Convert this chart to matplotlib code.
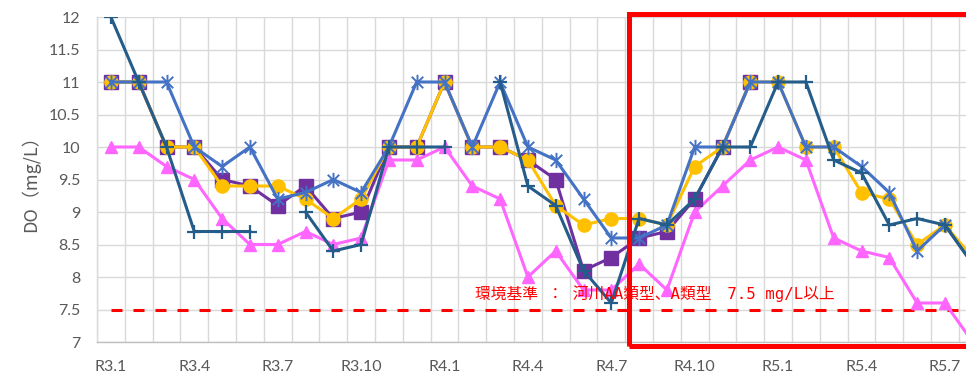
import numpy as np
import matplotlib
matplotlib.use("Agg")
import matplotlib.pyplot as plt
from matplotlib.patches import Rectangle
from matplotlib.path import Path
from matplotlib.transforms import blended_transform_factory

nan = np.nan

months = [
    "R3.1", "R3.2", "R3.3", "R3.4", "R3.5", "R3.6", "R3.7", "R3.8", "R3.9", "R3.10", "R3.11", "R3.12",
    "R4.1", "R4.2", "R4.3", "R4.4", "R4.5", "R4.6", "R4.7", "R4.8", "R4.9", "R4.10", "R4.11", "R4.12",
    "R5.1", "R5.2", "R5.3", "R5.4", "R5.5", "R5.6", "R5.7", "R5.8",
]

do_purple = [11, 11, 10, 10, 9.5, 9.4, 9.1, 9.4, 8.9, 9.0, 10, 10, 11, 10, 10, 9.8,
             9.5, 8.1, 8.3, 8.6, 8.7, 9.2, 10, 11, nan, nan, nan, nan, nan, nan, nan, nan]
do_yellow = [11, 11, 10, 10, 9.4, 9.4, 9.4, 9.2, 8.9, 9.2, 10, 10, 11, 10, 10, 9.8,
             9.1, 8.8, 8.9, 8.9, 8.8, 9.7, 10, 11, 11, 10, 10, 9.3, 9.2, 8.5, 8.8, 8.3]
do_blue = [11, 11, 11, 10, 9.7, 10, 9.2, 9.3, 9.5, 9.3, 10, 11, 11, 10, 11, 10,
           9.8, 9.2, 8.6, 8.6, 8.8, 10, 10, 11, 11, 10, 10, 9.7, 9.3, 8.4, 8.8, 8.2]
do_navy = [12, 11, 10, 8.7, 8.7, 8.7, nan, 9.0, 8.4, 8.5, 10, 10, 10, nan, 11, 9.4,
           9.1, 8.1, 7.6, 8.9, 8.8, 9.2, 10, 10, 11, 11, 9.8, 9.6, 8.8, 8.9, 8.8, 8.2]
do_pink = [10, 10, 9.7, 9.5, 8.9, 8.5, 8.5, 8.7, 8.5, 8.6, 9.8, 9.8, 10, 9.4, 9.2, 8.0,
           8.4, 7.8, 7.8, 8.2, 7.8, 9.0, 9.4, 9.8, 10, 9.8, 8.6, 8.4, 8.3, 7.6, 7.6, 7.0]

standard = 7.5
standard_label = "環境基準 ： 河川AA類型、A類型　7.5 mg/L以上"
y_ticks = [7, 7.5, 8, 8.5, 9, 9.5, 10, 10.5, 11, 11.5, 12]
y_tick_labels = ["7", "7.5", "8", "8.5", "9", "9.5", "10", "10.5", "11", "11.5", "12"]
x_tick_step = 3

# star marker: an X crossed by a vertical stroke
star = Path(
    [(0, -1), (0, 1), (-0.75, -0.75), (0.75, 0.75), (-0.75, 0.75), (0.75, -0.75)],
    [Path.MOVETO, Path.LINETO, Path.MOVETO, Path.LINETO, Path.MOVETO, Path.LINETO],
)

W, H = 966, 375
fig = plt.figure(figsize=(W / 100, H / 100), dpi=100)
# plot area: left 97px, top 17px, bottom 342px, 32 month slots of ~27.8px
ax = fig.add_axes([97 / W, (H - 342) / H, 889.6 / W, 325 / H])

x = np.arange(len(months))
lw = 2.2

ax.plot(x, do_pink, color="#FF66FF", lw=lw, marker="^", ms=8.5, zorder=3)
ax.plot(x, do_purple, color="#7030A0", lw=lw, marker="s", ms=9.5, zorder=4)
ax.plot(x, do_yellow, color="#FFC000", lw=lw, marker="o", ms=9.5, zorder=5)
ax.plot(x, do_blue, color="#4472C4", lw=lw, marker=star, ms=11, mew=1.4, zorder=6)
ax.plot(x, do_navy, color="#245C8A", lw=lw, marker="+", ms=10, mew=1.6, zorder=7)

ax.plot(x, [standard] * len(x), color="#FF0000", lw=2.2, dashes=(3.6, 3.6), zorder=2)
ax.text(13.1, 7.75, standard_label, color="#FF0000", fontsize=11.3,
        family=["DejaVu Sans Mono", "Noto Sans CJK JP"], ha="left", va="center", zorder=8)

ax.set_xlim(-0.5, len(months) - 0.5)
ax.set_ylim(7, 12)

ax.set_yticks(y_ticks)
ax.set_yticklabels(y_tick_labels)
ax.set_xticks(x[::x_tick_step])
ax.set_xticklabels(months[::x_tick_step])
ax.set_xticks(np.arange(-0.5, len(months), 1), minor=True)

ax.tick_params(axis="both", which="both", length=0, labelsize=11.5, labelcolor="#595959")
ax.tick_params(axis="y", pad=12)
ax.tick_params(axis="x", pad=13)
for lab in ax.get_xticklabels() + ax.get_yticklabels():
    lab.set_family("Lato")

ax.grid(True, which="minor", axis="x", color="#D9D9D9", lw=1.0)
ax.grid(True, which="major", axis="y", color="#D9D9D9", lw=1.0)
ax.set_axisbelow(True)
for side in ["top", "right"]:
    ax.spines[side].set_visible(False)
ax.spines["left"].set_color("#D9D9D9")
ax.spines["bottom"].set_color("#BFBFBF")
ax.spines["left"].set_linewidth(1.0)
ax.spines["bottom"].set_linewidth(1.0)

ax.set_ylabel("DO（mg/L）", family=["Noto Sans CJK JP"], fontsize=13, color="#595959", labelpad=6)

# highlight frame around the recent period
trans = blended_transform_factory(ax.transData, ax.transAxes)
ax.add_patch(Rectangle((18.62, -0.012), 20, 1.021, transform=trans, fill=False,
                       edgecolor="#FF0000", lw=3.6, clip_on=False, zorder=9))

fig.savefig("out.png", dpi=100)
